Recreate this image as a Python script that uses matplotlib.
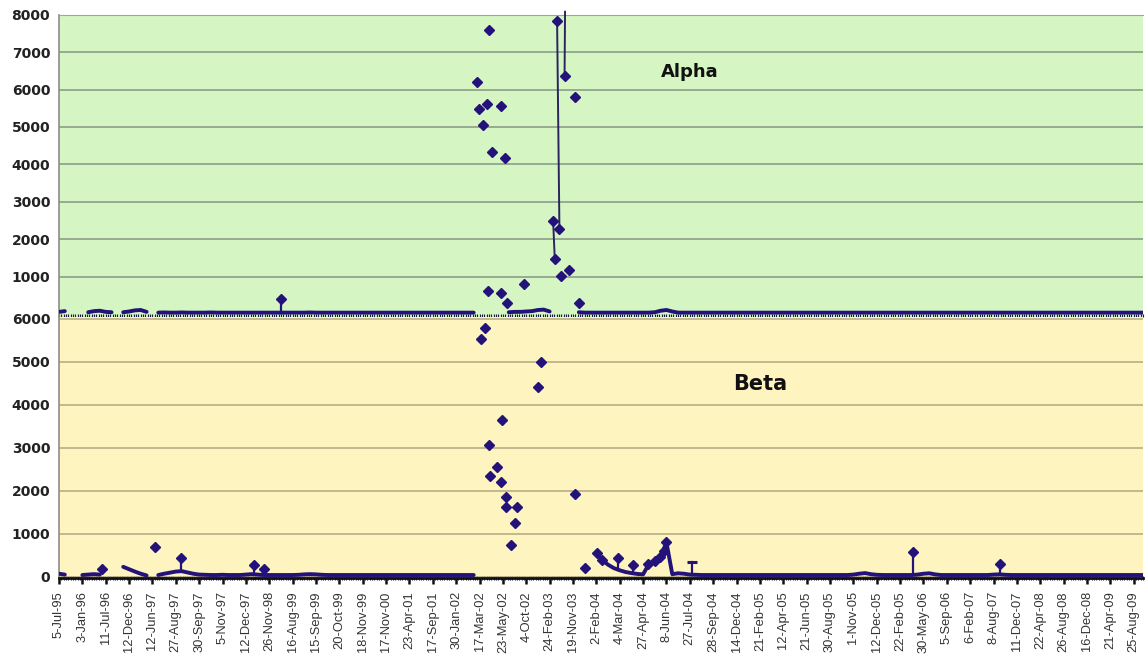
import numpy as np
import matplotlib
matplotlib.use("Agg")
import matplotlib.pyplot as plt
from matplotlib.ticker import MultipleLocator

nan = np.nan

# ---- category tick labels (one every ten categories) ----
tick_labels = ["5-Jul-95", "3-Jan-96", "11-Jul-96", "12-Dec-96", "12-Jun-97", "27-Aug-97",
               "30-Sep-97", "5-Nov-97", "12-Dec-97", "26-Nov-98", "16-Aug-99", "15-Sep-99",
               "20-Oct-99", "18-Nov-99", "17-Nov-00", "23-Apr-01", "17-Sep-01", "30-Jan-02",
               "17-Mar-02", "23-May-02", "4-Oct-02", "24-Feb-03", "19-Nov-03", "2-Feb-04",
               "4-Mar-04", "27-Apr-04", "8-Jun-04", "27-Jul-04", "28-Sep-04", "14-Dec-04",
               "21-Feb-05", "12-Apr-05", "21-Jun-05", "30-Aug-05", "1-Nov-05", "12-Dec-05",
               "22-Feb-05", "30-May-06", "5-Sep-06", "6-Feb-07", "8-Aug-07", "11-Dec-07",
               "22-Apr-08", "26-Aug-08", "16-Dec-08", "21-Apr-09", "25-Aug-09"]

# ---- Alpha: low background level (4 samples per label interval) ----
alpha_base = [
    60, 80, nan, nan, nan, 50, 80, 90,
    60, 50, nan, 50, 70, 100, 110, 60,
    nan, 40, 45, 40, 40, 45, 40, 40,
    40, 40, 45, 40, 40, 40, 40, 40,
    40, 40, 40, 40, 40, 40, 40, 40,
    40, 40, 40, 45, 40, 40, 40, 40,
    40, 40, 40, 40, 40, 40, 40, 40,
    40, 40, 40, 40, 40, 40, 40, 40,
    40, 40, 40, 40, 40, 40, 40, 40,
    nan, nan, nan, nan, nan, 50, 60, 60,
    70, 80, 110, 120, 70, nan, nan, nan,
    nan, 50, 40, 40, 40, 40, 40, 40,
    40, 40, 40, 40, 40, 40, 50, 90,
    110, 70, 40, 40, 40, 40, 40, 40,
    40, 40, 40, 40, 40, 40, 40, 40,
    40, 40, 40, 40, 40, 40, 40, 40,
    40, 40, 40, 40, 40, 40, 40, 40,
    40, 40, 40, 40, 40, 40, 40, 40,
    40, 40, 40, 40, 40, 40, 40, 40,
    40, 40, 40, 40, 40, 40, 40, 40,
    40, 40, 40, 40, 40, 40, 40, 40,
    40, 40, 40, 40, 40, 40, 40, 40,
    40, 40, 40, 40, 40, 40, 40, 40,
    40, 40, 40,
]

# ---- Alpha: individual high readings (x in label-interval units) ----
alpha_x = [9.52, 17.90, 17.96, 18.13, 18.32, 18.39, 18.54, 18.90, 19.11, 18.35, 18.93,
           19.18, 19.92, 21.15, 21.22, 21.32, 21.42, 21.49, 21.64, 21.81, 22.10, 22.27]
alpha_y = [400, 6190, 5480, 5040, 5615, 7590, 4330, 5570, 4170, 620, 575,
           310, 795, 2500, 1480, 7840, 2270, 1015, 6370, 1190, 5790, 290]
alpha_links = [(13, 14), (15, 16)]
alpha_stems = [0]
alpha_lead_x = [21.66, 21.64]          # line entering from above the top
alpha_lead_y = [8080, 6370]

# ---- Beta: low background level ----
beta_base = [
    70, 50, nan, nan, 40, 50, 60, 50,
    nan, nan, nan, 230, 175, 120, 70, 30,
    nan, 40, 70, 95, 120, 130, 100, 70,
    50, 45, 40, 40, 45, 40, 40, 40,
    50, 60, 50, 40, 40, 40, 40, 40,
    40, 45, 55, 60, 55, 45, 40, 40,
    40, 40, 40, 40, 40, 40, 40, 40,
    40, 40, 40, 40, 40, 40, 40, 40,
    40, 40, 40, 40, 40, 40, 40, 40,
    nan, nan, nan, nan, nan, nan, nan, nan,
    nan, nan, nan, nan, nan, nan, nan, nan,
    nan, nan, nan, nan, 558, 388, 280, 200,
    150, 110, 85, 65, 55, 295, 372, 465,
    800, 60, 80, 70, 50, 45, 40, 40,
    40, 40, 40, 40, 40, 40, 40, 40,
    40, 40, 40, 40, 40, 40, 40, 40,
    40, 40, 40, 40, 40, 40, 40, 40,
    50, 70, 85, 60, 45, 40, 40, 40,
    40, 40, 40, 50, 70, 80, 55, 40,
    40, 40, 40, 40, 40, 40, 40, 40,
    50, 55, 45, 40, 40, 40, 40, 40,
    40, 40, 40, 40, 40, 40, 40, 40,
    40, 40, 40, 40, 40, 40, 40, 40,
    40, 40, 40,
]

beta_x = [1.85, 4.10, 5.24, 8.34, 8.76, 18.08, 18.22, 18.41, 18.45, 18.76, 18.90, 18.98,
          19.12, 19.14, 19.36, 19.50, 19.61, 20.49, 20.65, 22.07, 22.50, 23.03, 23.24,
          23.93, 24.57, 25.21, 25.52, 25.74, 25.91, 26.00, 36.55, 40.29]
beta_y = [179, 698, 428, 272, 179, 5521, 5777, 3063, 2342, 2558, 2195, 3644,
          1847, 1614, 737, 1256, 1628, 4412, 5000, 1916, 195, 558, 388,
          442, 272, 295, 372, 465, 605, 800, 581, 295]
beta_stems = [2, 3, 23, 24, 30, 31]
beta_tee_x = [27.09]
beta_tee_y = [349]

# ---- styling ----
MARK = "#22127a"
LINE = "#2a2560"
GREEN = "#d5f6c2"
YELLOW = "#fdf4c0"

fig = plt.figure(figsize=(11.45, 6.57), dpi=100)
ax1 = fig.add_axes([0.0511, 0.5175, 0.9472, 0.4601])
ax2 = fig.add_axes([0.0511, 0.1202, 0.9472, 0.3973])

base_x = np.arange(len(alpha_base)) * 0.25


def base_at(base, x):
    b = np.asarray(base, float)
    ok = ~np.isnan(b)
    return np.interp(x, base_x[ok], b[ok])


def draw_panel(ax, base, px, py, stems, bg):
    ax.set_facecolor(bg)
    ax.plot(base_x, base, color=MARK, lw=2.8, solid_capstyle="round", zorder=3)
    for i in stems:
        ax.plot([px[i], px[i]], [py[i], base_at(base, px[i])], color=MARK, lw=1.6, zorder=3)
    ax.plot(px, py, linestyle="none", marker="D", ms=4.6, color=MARK, zorder=4)


draw_panel(ax1, alpha_base, alpha_x, alpha_y, alpha_stems, GREEN)
for a, b in alpha_links:
    ax1.plot([alpha_x[a], alpha_x[b]], [alpha_y[a], alpha_y[b]], color=LINE, lw=1.4, zorder=3)
ax1.plot(alpha_lead_x, alpha_lead_y, color=LINE, lw=1.4, zorder=3, clip_on=False)

draw_panel(ax2, beta_base, beta_x, beta_y, beta_stems, YELLOW)
for x, y in zip(beta_tee_x, beta_tee_y):
    ax2.plot([x, x], [y, base_at(beta_base, x)], color=MARK, lw=1.6, zorder=3)
ax2.plot(beta_tee_x, beta_tee_y, linestyle="none", marker="_", ms=7, mew=2.2, color=MARK, zorder=4)

xmin, xmax = -0.02, 46.4
for ax in (ax1, ax2):
    ax.set_xlim(xmin, xmax)
    ax.spines["right"].set_visible(False)
    ax.spines["left"].set_color("#8c8c8c")
    ax.spines["left"].set_linewidth(1.2)
    ax.tick_params(axis="y", length=0, pad=6, labelsize=10, labelcolor="#222222")
    ax.set_axisbelow(True)

ax1.set_ylim(-77, 8000)
ax1.set_yticks(range(1000, 8001, 1000))
ax1.set_yticklabels([str(v) for v in range(1000, 8001, 1000)], fontweight="bold", fontsize=10)
ax1.yaxis.grid(True, color="#8e9c86", lw=1.2)
ax1.spines["top"].set_color("#9aa892")
ax1.spines["bottom"].set_visible(False)
ax1.set_xticks([])
ax1.xaxis.set_minor_locator(MultipleLocator(0.1))
ax1.tick_params(axis="x", which="minor", direction="in", length=2, width=0.8, color="#1a1a40")

ax2.set_ylim(-30, 6040)
ax2.set_yticks(range(0, 6001, 1000))
ax2.set_yticklabels([str(v) for v in range(0, 6001, 1000)], fontweight="bold", fontsize=10)
ax2.yaxis.grid(True, color="#b8ad84", lw=1.2)
ax2.spines["top"].set_visible(False)
ax2.spines["bottom"].set_color("#111111")
ax2.spines["bottom"].set_linewidth(2)
ax2.set_xticks(range(len(tick_labels)))
ax2.set_xticklabels(tick_labels, rotation=90, fontsize=9.3, family="Liberation Sans",
                    color="#333333")
ax2.xaxis.set_minor_locator(MultipleLocator(0.1))
ax2.tick_params(axis="x", which="major", direction="out", length=4.5, width=1.8,
                color="#111111", pad=5)
ax2.tick_params(axis="x", which="minor", direction="inout", length=2.5, width=0.8,
                color="#1a1a40")

ax1.text(0.582, 0.795, "Alpha", transform=ax1.transAxes, ha="center", va="baseline",
         fontsize=13, fontweight="bold", color="#111111")
ax2.text(0.647, 0.72, "Beta", transform=ax2.transAxes, ha="center", va="baseline",
         fontsize=15, fontweight="bold", color="#111111")

fig.savefig("out.png", dpi=100)
